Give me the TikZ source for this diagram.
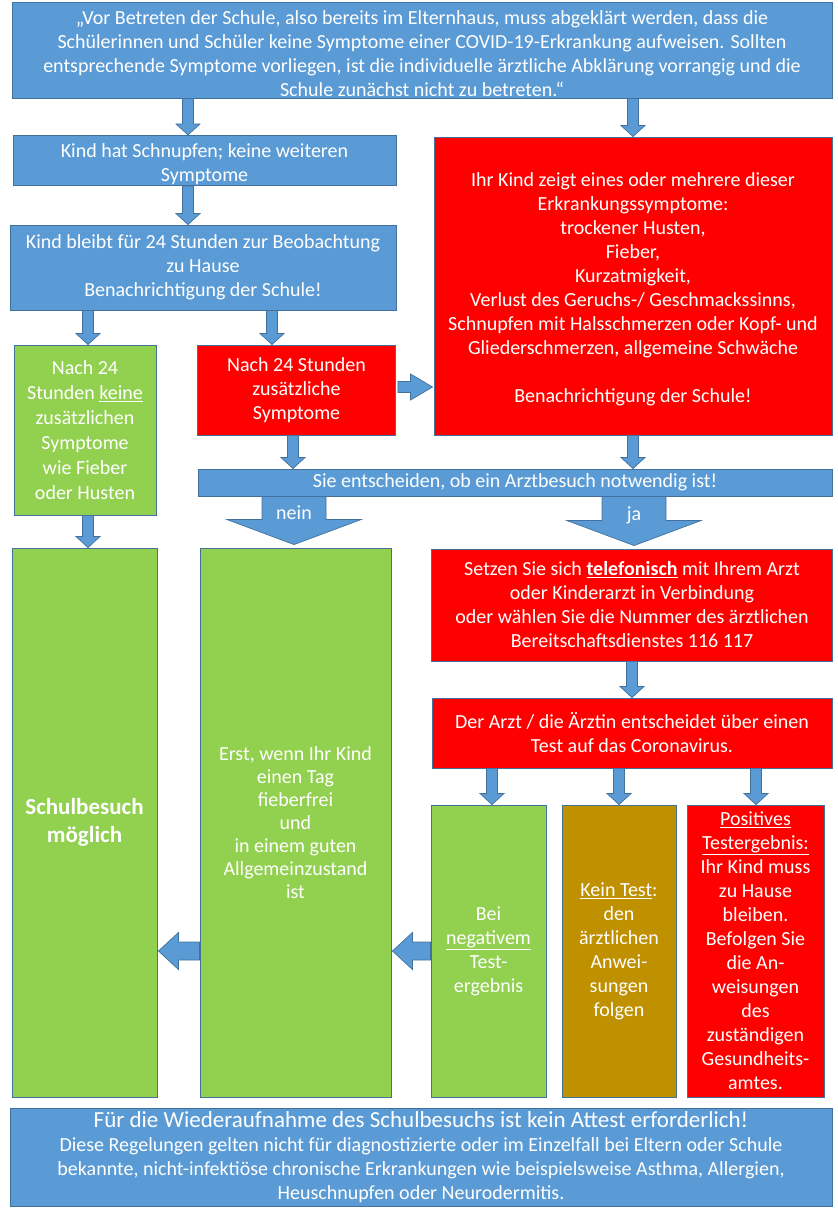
\documentclass[tikz,border=0pt]{standalone}
\usepackage{fontspec}
\setmainfont{Carlito}
\usetikzlibrary{calc}
\definecolor{cblue}{HTML}{5B9BD5}
\definecolor{cborder}{HTML}{41719C}
\definecolor{cred}{HTML}{FF0000}
\definecolor{cgreen}{HTML}{92D050}
\definecolor{cgold}{HTML}{BF9000}
\tikzset{
  box/.style={draw=cborder, line width=0.9pt, align=center, text=white, inner sep=1pt,
    font=\fontsize{20}{24}\selectfont},
  bluebox/.style={box, fill=cblue},
  redbox/.style={box, fill=cred},
  greenbox/.style={box, fill=cgreen},
  goldbox/.style={box, fill=cgold},
  fatarrow/.style={fill=cblue, draw=cborder, line width=0.7pt},
  arrowlabel/.style={text=white, font=\fontsize{20}{22}\selectfont, inner sep=0pt},
}
\newcommand\topstrut[1]{\rule{0pt}{#1}}
% down arrow: #1 = x, #2 = source node, #3 = target node
\newcommand\fatdown[3]{%
  \filldraw[fatarrow] let \p1=(#2.south), \p2=(#3.north) in
    ({#1pt-5.5pt},\y1) -- ({#1pt+5.5pt},\y1) -- ({#1pt+5.5pt},\y2+11pt)
    -- ({#1pt+12pt},\y2+11pt) -- ({#1pt},\y2) -- ({#1pt-12pt},\y2+11pt)
    -- ({#1pt-5.5pt},\y2+11pt) -- cycle;}
% right arrow: #1 = y, #2 source, #3 target
\newcommand\fatright[3]{%
  \filldraw[fatarrow] let \p1=(#2.east), \p2=(#3.west) in
    ({\x1+2pt},{-#1pt+5.5pt}) -- ({\x2-23pt},{-#1pt+5.5pt}) -- ({\x2-23pt},{-#1pt+13pt})
    -- ({\x2-1pt},{-#1pt}) -- ({\x2-23pt},{-#1pt-13pt}) -- ({\x2-23pt},{-#1pt-5.5pt})
    -- ({\x1+2pt},{-#1pt-5.5pt}) -- cycle;}
% left arrow: #1 = y, #2 source, #3 target
\newcommand\fatleft[3]{%
  \filldraw[fatarrow] let \p1=(#2.west), \p2=(#3.east) in
    ({\x1},{-#1pt+9pt}) -- ({\x2+21pt},{-#1pt+9pt}) -- ({\x2+21pt},{-#1pt+18.5pt})
    -- ({\x2+1pt},{-#1pt}) -- ({\x2+21pt},{-#1pt-18.5pt}) -- ({\x2+21pt},{-#1pt-9pt})
    -- ({\x1},{-#1pt-9pt}) -- cycle;}
% big labelled down arrow: #1 = x, #2 source, #3 target
\newcommand\bigdown[3]{%
  \filldraw[fatarrow] let \p1=(#2.south), \p2=(#3.north) in
    ({#1pt-32pt},\y1) -- ({#1pt+32pt},\y1) -- ({#1pt+32pt},\y2+28pt)
    -- ({#1pt+67pt},\y2+28pt) -- ({#1pt},\y2+3pt) -- ({#1pt-67pt},\y2+28pt)
    -- ({#1pt-32pt},\y2+28pt) -- cycle;}
\begin{document}
\begin{tikzpicture}[x=1pt, y=-1pt]
\useasboundingbox (0,0) rectangle (838,1216);

\node[bluebox, minimum width=820pt, minimum height=95pt,
  font=\fontsize{20}{24}\selectfont] (top) at (422,50.5)
  {\topstrut{21pt}„Vor Betreten der Schule, also bereits im Elternhaus, muss abgeklärt werden, dass die\\
   Schülerinnen und Schüler keine Symptome einer COVID-19-Erkrankung aufweisen. Sollten\\
   entsprechende Symptome vorliegen, ist die individuelle ärztliche Abklärung vorrangig und die\\
   Schule zunächst nicht zu betreten.“};

\node[bluebox, minimum width=383pt, minimum height=50pt] (schnupfen) at (204.5,160.5)
  {\topstrut{21pt}Kind hat Schnupfen; keine weiteren\\ Symptome};

\node[bluebox, minimum width=386pt, minimum height=85pt] (bleibt) at (203,267.5)
  {Kind bleibt für 24 Stunden zur Beobachtung\\ zu Hause\\ Benachrichtigung der Schule!};

\node[greenbox, minimum width=142pt, minimum height=170pt,
  font=\fontsize{20}{25}\selectfont] (keine) at (85,430)
  {Nach 24\\ Stunden \underline{keine}\\ zusätzlichen\\ Symptome\\ wie Fieber\\ oder Husten};

\node[redbox, minimum width=198pt, minimum height=90pt] (zus) at (296.5,390)
  {Nach 24 Stunden\\ zusätzliche\\ Symptome};

\node[redbox, minimum width=398pt, minimum height=298pt] (symptome) at (633,286)
  {\topstrut{21pt}Ihr Kind zeigt eines oder mehrere dieser\\ Erkrankungssymptome:\\ trockener Husten,\\
   Fieber,\\ Kurzatmigkeit,\\ Verlust des Geruchs-/ Geschmackssinns,\\
   Schnupfen mit Halsschmerzen oder Kopf- und\\ Gliederschmerzen, allgemeine Schwäche\\[24pt]
   Benachrichtigung der Schule!};

\node[bluebox, minimum width=634pt, minimum height=27pt] (entscheiden) at (515,482.5)
  {Sie entscheiden, ob ein Arztbesuch notwendig ist!};

\node[greenbox, minimum width=145pt, minimum height=549pt,
  font=\fontsize{23}{28}\selectfont\bfseries] (schulbesuch) at (84.5,822.5)
  {Schulbesuch\\ möglich};

\node[greenbox, minimum width=191pt, minimum height=549pt,
  font=\fontsize{20}{23}\selectfont] (erst) at (295.5,822.5)
  {Erst, wenn Ihr Kind\\ einen Tag\\ fieberfrei\\ und\\ in einem guten\\ Allgemeinzustand\\ ist};

\node[redbox, minimum width=401pt, minimum height=112pt] (setzen) at (632,605)
  {Setzen Sie sich \underline{\textbf{telefonisch}} mit Ihrem Arzt\\ oder Kinderarzt in Verbindung\\
   oder wählen Sie die Nummer des ärztlichen\\ Bereitschaftsdienstes 116 117};

\node[redbox, minimum width=400pt, minimum height=70pt] (arzt) at (632,733)
  {Der Arzt / die Ärztin entscheidet über einen\\ Test auf das Coronavirus.};

\node[greenbox, minimum width=115pt, minimum height=292pt] (neg) at (488.5,951)
  {Bei\\ \underline{negativem}\\ Test-\\ ergebnis};

\node[goldbox, minimum width=114pt, minimum height=292pt] (kein) at (619,951)
  {\underline{Kein Test}:\\ den\\ ärztlichen\\ Anwei-\\ sungen\\ folgen};

\node[redbox, minimum width=137pt, minimum height=292pt] (pos) at (755.5,951)
  {\underline{Positives}\\ \underline{Testergebnis:}\\ Ihr Kind muss\\ zu Hause\\ bleiben.\\
   Befolgen Sie\\ die An-\\ weisungen\\ des\\ zuständigen\\ Gesundheits-\\ amtes.};

\node[bluebox, minimum width=822pt, minimum height=98pt,
  font=\fontsize{20}{24}\selectfont] (bottom) at (421,1157)
  {{\fontsize{23}{25}\selectfont Für die Wiederaufnahme des Schulbesuchs ist kein Attest erforderlich!}\\
   Diese Regelungen gelten nicht für diagnostizierte oder im Einzelfall bei Eltern oder Schule\\
   bekannte, nicht-infektiöse chronische Erkrankungen wie beispielsweise Asthma, Allergien,\\
   Heuschnupfen oder Neurodermitis.};

% connectors
\fatdown{188}{top}{schnupfen}
\fatdown{633}{top}{symptome}
\fatdown{188}{schnupfen}{bleibt}
\fatdown{88}{bleibt}{keine}
\fatdown{272}{bleibt}{zus}
\fatdown{88}{keine}{schulbesuch}
\fatdown{293}{zus}{entscheiden}
\fatdown{633}{symptome}{entscheiden}
\fatdown{632}{setzen}{arzt}
\fatdown{492}{arzt}{neg}
\fatdown{619}{arzt}{kein}
\fatdown{756}{arzt}{pos}
\fatright{387}{zus}{symptome}
\fatleft{951}{neg}{erst}
\fatleft{951}{erst}{schulbesuch}
\bigdown{294}{entscheiden}{erst}
\bigdown{634}{entscheiden}{setzen}
\node[arrowlabel] (nein) at (294,513) {nein};
\node[arrowlabel] (ja) at (634,515) {ja};
\end{tikzpicture}
\end{document}
